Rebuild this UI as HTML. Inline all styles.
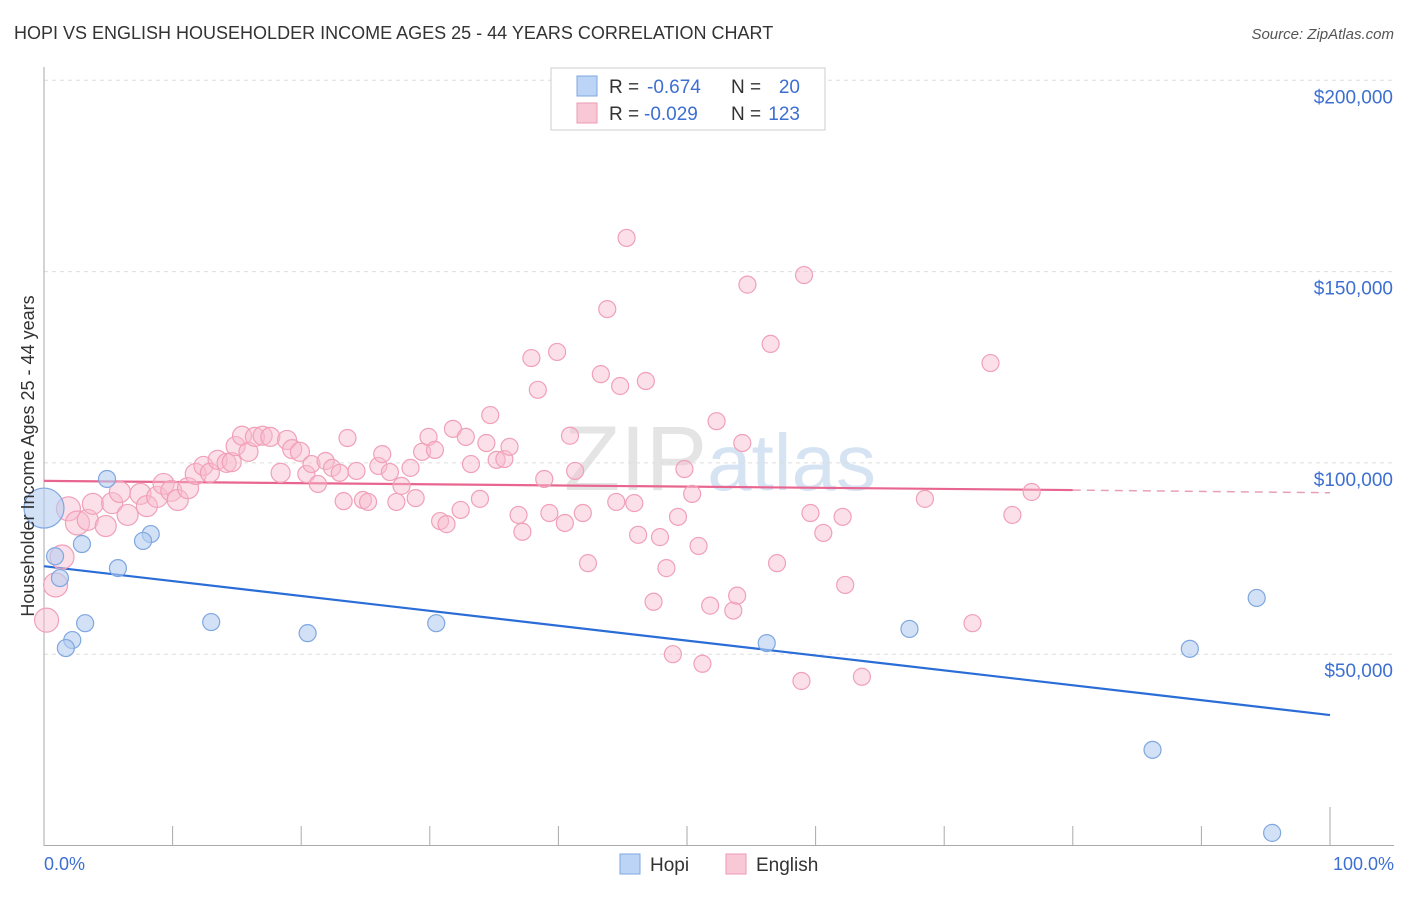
<!DOCTYPE html>
<html><head><meta charset="utf-8">
<style>
body{margin:0;background:#fff;font-family:"Liberation Sans",sans-serif;}
svg text{font-family:"Liberation Sans",sans-serif;}
</style></head>
<body>
<svg id="chart" width="1406" height="892" xmlns="http://www.w3.org/2000/svg">
<text x="14" y="39" font-size="18" fill="#333">HOPI VS ENGLISH HOUSEHOLDER INCOME AGES 25 - 44 YEARS CORRELATION CHART</text>
<text x="1394" y="39" font-size="15" fill="#555" text-anchor="end" font-style="italic">Source: ZipAtlas.com</text>
<text x="720" y="490" font-size="92" fill="#e8eef6" text-anchor="middle" font-family="Liberation Serif"><tspan fill="#e4e4e4">ZIP</tspan><tspan fill="#d6e3f3" font-family="Liberation Sans" font-size="80">atlas</tspan></text>
<g id="grid"></g>
<g id="axes"></g>
<g id="trends"></g>
<g id="pts"></g>
<text transform="translate(34,456) rotate(-90)" font-size="18" fill="#333" text-anchor="middle">Householder Income Ages 25 - 44 years</text>
<text x="44" y="870" font-size="18" fill="#3d6fd1">0.0%</text>
<text x="1394" y="870" font-size="18" fill="#3d6fd1" text-anchor="end">100.0%</text>
<g>
<rect x="551" y="68" width="274" height="62" fill="#fff" stroke="#ccc"/>
<rect x="577" y="76" width="20" height="20" fill="#bcd4f5" stroke="#7fa7e0"/>
<rect x="577" y="103" width="20" height="20" fill="#f9c8d6" stroke="#ec9ab2"/>
<text x="609" y="93" font-size="19" fill="#333">R =</text>
<text x="647" y="93" font-size="19" fill="#3d6fd1">-0.674</text>
<text x="731" y="93" font-size="19" fill="#333">N =</text>
<text x="800" y="93" font-size="19" fill="#3d6fd1" text-anchor="end">20</text>
<text x="609" y="120" font-size="19" fill="#333">R =</text>
<text x="644" y="120" font-size="19" fill="#3d6fd1">-0.029</text>
<text x="731" y="120" font-size="19" fill="#333">N =</text>
<text x="800" y="120" font-size="19" fill="#3d6fd1" text-anchor="end">123</text>
</g>
<g><rect x="620" y="854" width="20" height="20" fill="#bcd4f5" stroke="#7fa7e0"/><text x="650" y="871" font-size="19" fill="#333">Hopi</text></g>
<g><rect x="726" y="854" width="20" height="20" fill="#f9c8d6" stroke="#ec9ab2"/><text x="756" y="871" font-size="19" fill="#333">English</text></g>
</svg>
<script>
const yTicks=[50,100,150,200];
const yTickLabels=["$50,000","$100,000","$150,000","$200,000"];
const xTicks=[0,10,20,30,40,50,60,70,80,90,100];
const hopiX=[0,0.86,1.24,2.95,4.9,8.3,7.7,5.75,3.2,2.2,1.7,13.0,20.5,30.5,56.2,67.3,89.1,94.3,86.2,95.5];
const hopiY=[88.2,75.6,69.9,78.8,95.8,81.4,79.6,72.5,58.1,53.7,51.6,58.4,55.5,58.1,52.9,56.6,51.4,64.7,25.0,3.3];
const engX=[0.2,0.9,1.4,1.9,2.6,3.4,3.8,4.8,5.3,5.9,6.5,7.5,8.0,8.8,9.3,9.9,10.4,11.2,11.8,12.4,12.9,13.5,14.2,14.6,14.9,15.4,15.9,16.4,17.0,17.6,18.4,18.9,19.3,19.9,20.4,20.8,21.3,21.9,22.4,23.0,23.6,23.3,24.3,24.8,25.2,26.0,26.3,26.9,27.4,27.8,28.5,28.9,29.4,29.9,30.4,30.8,31.3,31.8,32.4,32.8,33.2,33.9,34.4,34.7,35.2,35.8,36.2,36.9,37.2,37.9,38.4,38.9,39.3,39.9,40.5,40.9,41.3,41.9,42.3,43.3,43.8,44.5,44.8,45.3,45.9,46.2,46.8,47.4,47.9,48.4,48.9,49.3,49.8,50.4,50.9,51.2,51.8,52.3,53.6,53.9,54.3,54.7,56.5,57.0,58.9,59.1,59.6,60.6,62.1,62.3,63.6,68.5,72.2,73.6,75.3,76.8];
const engY=[58.9,68.1,75.4,88.0,84.3,85.1,89.3,83.5,89.5,92.4,86.4,91.9,88.7,91.1,94.5,92.7,90.3,93.4,97.1,99.2,97.4,100.8,100.0,100.2,104.4,107.1,102.9,106.8,107.1,106.8,97.4,106.0,103.6,102.9,97.1,99.7,94.5,100.5,98.7,97.4,106.5,90.0,97.9,90.3,89.8,99.2,102.3,97.6,89.8,94.0,98.7,90.8,102.9,106.8,103.4,84.8,84.0,108.9,87.7,106.8,99.7,90.6,105.2,112.5,100.8,101.0,104.2,86.4,82.0,127.4,119.1,95.8,86.9,129.0,84.3,107.1,97.9,86.9,73.8,123.2,140.2,89.8,120.1,158.8,89.5,81.2,121.4,63.7,80.6,72.5,50.0,85.9,98.4,91.9,78.3,47.5,62.7,110.9,61.4,65.3,105.2,146.6,131.1,73.8,43.0,149.1,86.9,81.7,85.9,68.1,44.1,90.6,58.1,126.1,86.4,92.4];
const hopiTrendX=[0,100];
const hopiTrendY=[73.0,34.1];
const engTrendX=[0,80,100];
const engTrendY=[95.3,92.9,92.2];

const NS="http://www.w3.org/2000/svg";
const X=v=>44+v*12.86;
const Y=v=>845.5-v*3.826;
function mk(tag,attrs,parent){const e=document.createElementNS(NS,tag);for(const k in attrs)e.setAttribute(k,attrs[k]);parent.appendChild(e);return e;}
const grid=document.getElementById('grid'),axes=document.getElementById('axes'),tr=document.getElementById('trends'),pts=document.getElementById('pts');
yTicks.forEach((t,i)=>{
 const l=mk('line',{x1:44,x2:1394,y1:Y(t),y2:Y(t),stroke:'#ddd','stroke-dasharray':'4,4'},grid);
 
 
 const tx=mk('text',{x:1393,y:Y(t)+23,'font-size':19,fill:'#3d6fd1','text-anchor':'end'},grid);
 tx.textContent=yTickLabels[i];
 
 
});
const ya=mk('line',{x1:44,x2:44,y1:67,y2:846,stroke:'#aaa'},axes);


const xa=mk('line',{x1:44,x2:1394,y1:845.5,y2:845.5,stroke:'#aaa'},axes);


xTicks.forEach(t=>{
 const tk=mk('line',{x1:X(t),x2:X(t),y1:(t===100?807:826),y2:845,stroke:'#aaa'},axes);
 
 
});
const hl=mk('line',{x1:X(hopiTrendX[0]),y1:Y(hopiTrendY[0]),x2:X(hopiTrendX[1]),y2:Y(hopiTrendY[1]),stroke:'#2a6dd6','stroke-width':2.2},tr);


const el1=mk('line',{x1:X(engTrendX[0]),y1:Y(engTrendY[0]),x2:X(engTrendX[1]),y2:Y(engTrendY[1]),stroke:'#e8658f','stroke-width':2.2},tr);


const el2=mk('line',{x1:X(engTrendX[1]),y1:Y(engTrendY[1]),x2:X(engTrendX[2]),y2:Y(engTrendY[2]),stroke:'#e8a0b5','stroke-width':1.5,'stroke-dasharray':'8,6'},tr);


engX.forEach((x,i)=>{
 const r=x<3?12:(x<12?10.5:(x<20?9.5:8.5));
 const c=mk('circle',{cx:X(x),cy:Y(engY[i]),r:r,fill:'rgba(248,186,206,0.45)',stroke:'#f0a0b8','stroke-width':1.2},pts);
 
 
});
hopiX.forEach((x,i)=>{
 const r=i===0?20:8.5;
 const c=mk('circle',{cx:X(x),cy:Y(hopiY[i]),r:r,fill:'rgba(180,205,240,0.6)',stroke:'#7fa7e0','stroke-width':1.2},pts);
 
 
});
</script>
</body></html>
